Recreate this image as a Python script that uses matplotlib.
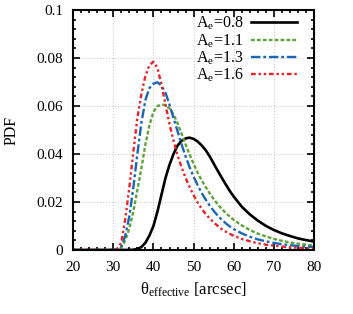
import numpy as np
import matplotlib
matplotlib.use("Agg")
from matplotlib import pyplot as plt
from matplotlib.ticker import MultipleLocator

plt.rcParams['font.family'] = ['Liberation Serif', 'DejaVu Serif']
plt.rcParams['mathtext.fontset'] = 'custom'
plt.rcParams['mathtext.rm'] = 'Liberation Serif'
plt.rcParams['mathtext.it'] = 'Liberation Serif:italic'
plt.rcParams['font.size'] = 11

# theta_effective [arcsec]
theta = [20, 30, 31, 32, 33, 34, 35, 36, 37, 38, 39, 40, 41, 42, 43, 44, 45, 46, 47, 48, 49,
         50, 51, 52, 53, 54, 55, 56, 57, 58, 59, 60, 62, 64, 66, 68, 70, 72, 74, 76, 78, 80]

# A_e = 0.8
pdf_08 = [0, 0, 0, 0, 0, 0, 0.0001, 0.0004, 0.0012, 0.0030, 0.0060, 0.0100, 0.0160, 0.0230,
          0.0300, 0.0355, 0.0400, 0.0435, 0.0455, 0.0465, 0.0468, 0.0463, 0.0452, 0.0436,
          0.0416, 0.0390, 0.0360, 0.0330, 0.0301, 0.0273, 0.0246, 0.0222, 0.0180, 0.0148,
          0.0122, 0.0100, 0.0083, 0.0069, 0.0058, 0.0048, 0.0041, 0.0035]
# A_e = 1.1
pdf_11 = [0, 0, 0.0002, 0.0010, 0.0040, 0.0090, 0.0160, 0.0250, 0.0340, 0.0440, 0.0520, 0.0575,
          0.0600, 0.0605, 0.0605, 0.0590, 0.0565, 0.0528, 0.0485, 0.0440, 0.0398, 0.0358,
          0.0322, 0.0290, 0.0262, 0.0236, 0.0212, 0.0190, 0.0171, 0.0154, 0.0139, 0.0125,
          0.0102, 0.0083, 0.0068, 0.0056, 0.0046, 0.0038, 0.0031, 0.0026, 0.0022, 0.0018]
# A_e = 1.3
pdf_13 = [0, 0, 0.0003, 0.0015, 0.0060, 0.0140, 0.0260, 0.0400, 0.0530, 0.0625, 0.0675, 0.0693,
          0.0699, 0.0685, 0.0655, 0.0605, 0.0550, 0.0495, 0.0440, 0.0390, 0.0345, 0.0305,
          0.0270, 0.0238, 0.0210, 0.0185, 0.0163, 0.0143, 0.0126, 0.0111, 0.0098, 0.0087,
          0.0069, 0.0055, 0.0044, 0.0036, 0.0029, 0.0024, 0.0020, 0.0016, 0.0014, 0.0012]
# A_e = 1.6
pdf_16 = [0, 0, 0.0005, 0.0030, 0.0130, 0.0260, 0.0410, 0.0550, 0.0650, 0.0725, 0.0770, 0.0785,
          0.0758, 0.0690, 0.0605, 0.0525, 0.0455, 0.0395, 0.0345, 0.0300, 0.0262, 0.0228,
          0.0198, 0.0172, 0.0150, 0.0131, 0.0115, 0.0100, 0.0087, 0.0076, 0.0067, 0.0059,
          0.0046, 0.0036, 0.0028, 0.0022, 0.0018, 0.0014, 0.0011, 0.0009, 0.0007, 0.0006]

labels = ['0.8', '1.1', '1.3', '1.6']

fig = plt.figure(figsize=(3.53, 3.14), dpi=100)
ax = fig.add_axes([0.207, 0.204, 0.683, 0.764])

ax.plot(theta, pdf_08, color='black', lw=1.9, ls='-', label=r'A$_{\mathrm{e}}$=' + labels[0])
ax.plot(theta, pdf_11, color='#5ea33a', lw=1.7, ls=(0, (1.6, 0.9)), label=r'A$_{\mathrm{e}}$=' + labels[1])
ax.plot(theta, pdf_13, color='#1a66b8', lw=1.7, ls=(0, (4, 1.2, 1.2, 1.2)), label=r'A$_{\mathrm{e}}$=' + labels[2])
ax.plot(theta, pdf_16, color='#e8212a', lw=1.7, ls=(0, (2, 1.2, 1, 1.2, 1, 1.2)), label=r'A$_{\mathrm{e}}$=' + labels[3])

ax.set_xlim(20, 80)
ax.set_ylim(0, 0.1)
ax.xaxis.set_major_locator(MultipleLocator(10))
ax.xaxis.set_minor_locator(MultipleLocator(2))
ax.yaxis.set_minor_locator(MultipleLocator(0.004))
ax.set_yticks([0, 0.02, 0.04, 0.06, 0.08, 0.1])
ax.set_yticklabels(['0', '0.02', '0.04', '0.06', '0.08', '0.1'])

ax.tick_params(which='both', direction='in', top=True, right=True, width=1.2)
ax.tick_params(which='major', length=5)
ax.tick_params(which='minor', length=2.5)
ax.tick_params(axis='x', which='major', pad=8)
ax.tick_params(axis='y', which='major', pad=7)
for s in ax.spines.values():
    s.set_linewidth(1.5)

ax.grid(True, which='major', color='#cccccc', ls=':', lw=0.8)

ax.set_xlabel(u'\u03b8$_{\\mathrm{effective}}$ [arcsec]', fontsize=12, labelpad=5)
ax.set_ylabel('PDF', fontsize=11.5, labelpad=12)

ax.legend(loc='upper right', bbox_to_anchor=(0.97, 1.02), frameon=False, markerfirst=False,
          fontsize=11.5, handlelength=2.9, handletextpad=0.5, labelspacing=0.0, borderaxespad=0.2)

fig.savefig('out.png', dpi=100)
